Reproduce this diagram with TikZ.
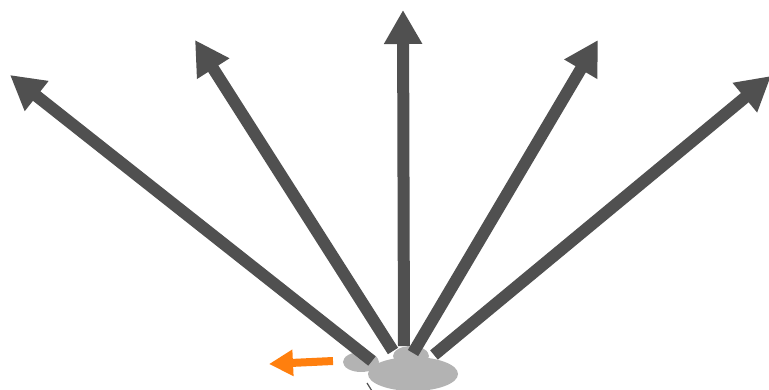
\documentclass[tikz,border=0pt]{standalone}
\usetikzlibrary{arrows.meta}
\definecolor{arrgray}{HTML}{505050}
\definecolor{blobgray}{HTML}{B3B3B3}
\definecolor{orng}{HTML}{FF7F0E}
\begin{document}
\begin{tikzpicture}[x=1pt,y=-1pt,
  bigarrow/.style={draw=arrgray,line width=12pt,-{Triangle[length=34pt,width=36pt]}},
  smallarrow/.style={draw=orng,line width=8pt,-{Triangle[length=24pt,width=25pt]}},
  blob/.style={fill=blobgray,draw=none}]
\useasboundingbox (0,0) rectangle (769,390);
% blob
\fill[blob] (361,362) ellipse [x radius=18, y radius=10];
\fill[blob] (411,356) ellipse [x radius=18, y radius=10];
\fill[blob] (413,374) ellipse [x radius=45, y radius=17];
\draw[arrgray,line width=1.2pt] (367,383) -- (372,391);
% coordinates
\coordinate (s1) at (372,361);
\coordinate (s2) at (393,351);
\coordinate (s3) at (404,346);
\coordinate (s4) at (413,353);
\coordinate (s5) at (434,355);
\coordinate (t1) at (10,75);
\coordinate (t2) at (195,40);
\coordinate (t3) at (403,10);
\coordinate (t4) at (598,40);
\coordinate (t5) at (771,76);
\coordinate (o1) at (333,361);
\coordinate (o2) at (269,364);
\draw[bigarrow] (s1) -- (t1);
\draw[bigarrow] (s2) -- (t2);
\draw[bigarrow] (s3) -- (t3);
\draw[bigarrow] (s4) -- (t4);
\draw[bigarrow] (s5) -- (t5);
\draw[smallarrow] (o1) -- (o2);
\end{tikzpicture}
\end{document}
